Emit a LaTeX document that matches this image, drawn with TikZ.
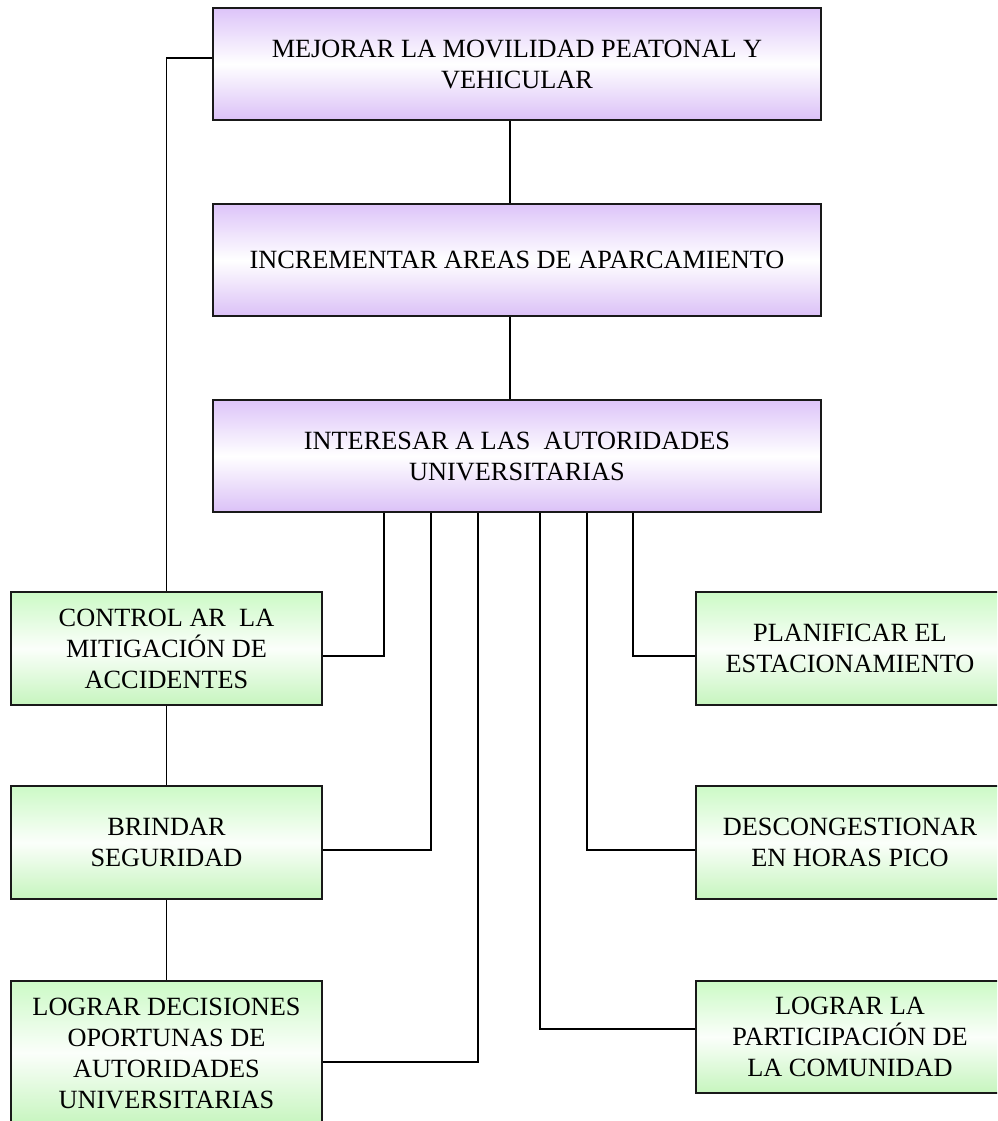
\documentclass[tikz,border=0pt]{standalone}
\usepackage{fontspec}
\setmainfont{Liberation Serif}
\definecolor{purp}{RGB}{221,196,249}
\definecolor{purpb}{RGB}{219,193,247}
\definecolor{grn}{RGB}{204,250,198}
\definecolor{grnb}{RGB}{198,245,190}
\tikzset{
  box/.style={draw=black!90, line width=1.8pt, align=center, inner sep=2pt,
    font=\fontsize{26.3}{31}\selectfont},
  pbox/.style={box, top color=purp, bottom color=purpb, middle color=white,
    minimum width=608pt, minimum height=112pt},
  gbox/.style={box, top color=grn, bottom color=grnb, middle color=white!92!grn,
    minimum width=311pt, minimum height=113pt},
  link/.style={line width=1.9pt, black}
}
\begin{document}
\begin{tikzpicture}[x=1pt,y=-1pt]
\useasboundingbox (0,0) rectangle (997,1121);
\clip (0,0) rectangle (997,1121);
% purple boxes
\node[pbox] (b1) at (517,64) {MEJORAR LA MOVILIDAD PEATONAL Y\\VEHICULAR};
\node[pbox] (b2) at (517,260) {INCREMENTAR AREAS DE APARCAMIENTO};
\node[pbox] (b3) at (517,456) {INTERESAR A LAS\ \ AUTORIDADES\\UNIVERSITARIAS};
% left green boxes
\node[gbox] (ctrl) at (166.5,648.5) {CONTROL AR\ \ LA\\MITIGACIÓN DE\\ACCIDENTES};
\node[gbox] (brin) at (166.5,842.5) {BRINDAR\\SEGURIDAD};
\node[gbox, minimum height=144pt] (logd) at (166.5,1053) {LOGRAR DECISIONES\\OPORTUNAS DE\\AUTORIDADES\\UNIVERSITARIAS};
% right green boxes
\node[gbox, minimum width=308pt] (plan) at (850,648.5) {PLANIFICAR EL\\ESTACIONAMIENTO};
\node[gbox, minimum width=308pt] (desc) at (850,842.5) {DESCONGESTIONAR\\EN HORAS PICO};
\node[gbox, minimum width=308pt, minimum height=112pt] (logl) at (850,1037) {LOGRAR LA\\PARTICIPACIÓN DE\\LA COMUNIDAD};
% connectors
\draw[link] ([xshift=-7pt]b1.south) -- ([xshift=-7pt]b2.north);
\draw[link] ([xshift=-7pt]b2.south) -- ([xshift=-7pt]b3.north);
\draw[link] ([yshift=6pt]b1.west) -| (ctrl.north);
\draw[link] (ctrl.south) -- (brin.north);
\draw[link] (brin.south) -- (logd.north);
\draw[link] ([xshift=-133pt]b3.south) |- ([yshift=-7.5pt]ctrl.east);
\draw[link] ([xshift=-86pt]b3.south) |- ([yshift=-7.5pt]brin.east);
\draw[link] ([xshift=-39pt]b3.south) |- ([yshift=-82pt]logd.north east);
\draw[link] ([xshift=23pt]b3.south) |- ([yshift=8pt]logl.west);
\draw[link] ([xshift=70pt]b3.south) |- ([yshift=-7.5pt]desc.west);
\draw[link] ([xshift=116pt]b3.south) |- ([yshift=-7.5pt]plan.west);
\end{tikzpicture}
\end{document}
